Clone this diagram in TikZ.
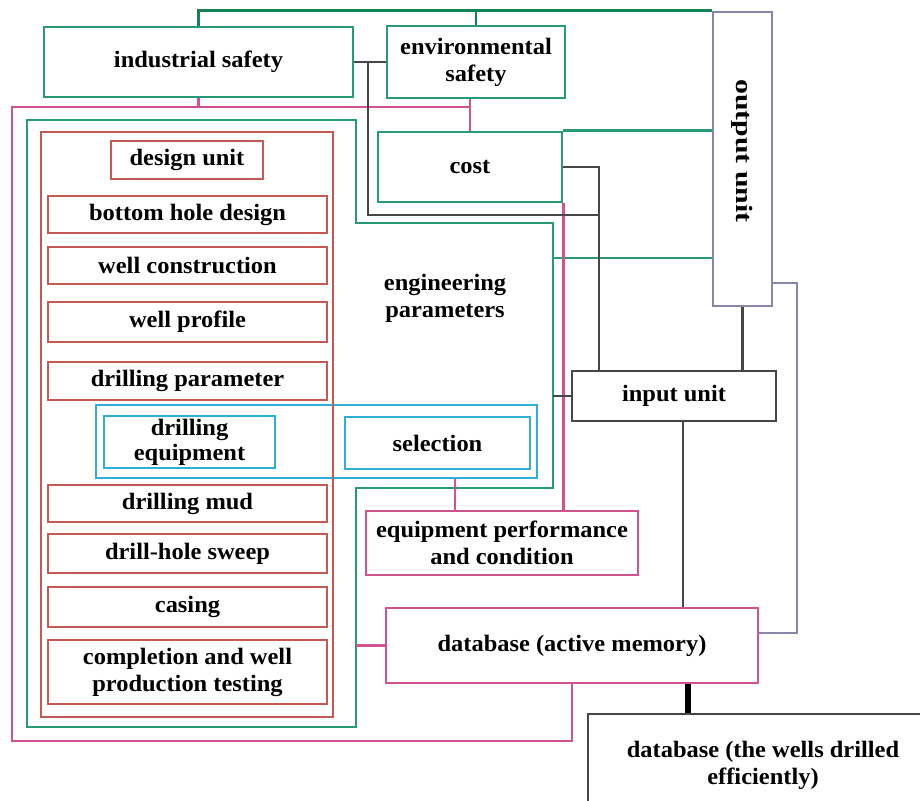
\documentclass[tikz,border=0pt]{standalone}
\usepackage{fontspec}
\setmainfont{Liberation Serif}[FakeStretch=1.04]

\definecolor{grn}{RGB}{40,155,118}
\definecolor{dgrn}{RGB}{20,130,86}
\definecolor{pnk}{RGB}{208,82,142}
\definecolor{rd}{RGB}{196,90,82}
\definecolor{cyn}{RGB}{45,175,215}
\definecolor{lav}{RGB}{135,135,172}
\definecolor{drk}{RGB}{70,70,70}

\tikzset{
  wire/.style={line width=2.9pt},
  txt/.style={inner sep=0pt, align=center, font=\fontsize{23.5}{27}\selectfont\bfseries},
  box/.style={txt, draw, line width=2.9pt},
  gbox/.style={box, draw=grn},
  pbox/.style={box, draw=pnk},
  rbox/.style={box, draw=rd},
  cbox/.style={box, draw=cyn},
  lbox/.style={box, draw=lav},
  kbox/.style={box, draw=drk}
}

\begin{document}
\begin{tikzpicture}[x=1pt,y=-1pt]
			\useasboundingbox (0,0) rectangle (920,800);
			\clip (0,0) rectangle (920,800);

			% Define boxes
			\node[gbox, minimum width=309pt, minimum height=70pt] (ind) at (198.5,62) {industrial safety};
			\node[gbox, minimum width=178pt, minimum height=72pt] (env) at (476,62) {environmental\\safety};
			\node[lbox, minimum width=59pt, minimum height=294pt] (outu) at (742.5,159) {};
			\node[txt, rotate=-90] (outt) at (742.5,151) {\scalebox{1.22}[1]{output unit}};
			\node[gbox, minimum width=184pt, minimum height=70pt] (cost) at (470,167) {cost};
			\node[txt] (eng) at (445,298) {engineering\\parameters};

			\node[rbox, minimum width=152pt, minimum height=38pt] (des) at (187,160) {design unit};
			\node[rbox, minimum width=279pt, minimum height=37pt] (bhd) at (187.5,214.5) {bottom hole design};
			\node[rbox, minimum width=279pt, minimum height=37pt] (wcon) at (187.5,265.5) {well construction};
			\node[rbox, minimum width=279pt, minimum height=40pt] (wpro) at (187.5,322) {well profile};
			\node[rbox, minimum width=279pt, minimum height=38pt] (dpar) at (187.5,381) {drilling parameter};
			\node[rbox, minimum width=279pt, minimum height=37pt] (dmud) at (187.5,503.5) {drilling mud};
			\node[rbox, minimum width=279pt, minimum height=39pt] (dhs) at (187.5,553.5) {drill-hole sweep};
			\node[rbox, minimum width=279pt, minimum height=40pt] (cas) at (187.5,607) {casing};
			\node[rbox, minimum width=279pt, minimum height=64pt] (comp) at (187.5,672) {completion and well\\production testing};

			\node[cbox, minimum width=441pt, minimum height=73pt] (dsel) at (316.5,441.5) {};
			\node[cbox, minimum width=171pt, minimum height=52pt, font=\fontsize{23.5}{25}\selectfont\bfseries] (deq) at (189.5,442) {drilling\\equipment};
			\node[cbox, minimum width=185pt, minimum height=52pt] (sel) at (437.5,443) {selection};

			\node[kbox, minimum width=204pt, minimum height=50pt] (inp) at (674,396) {input unit};
			\node[pbox, minimum width=272pt, minimum height=64pt] (eqp) at (502,543) {equipment performance\\and condition};
			\node[pbox, minimum width=372pt, minimum height=75pt] (db) at (572,645.5) {database (active memory)};
			\node[kbox, minimum width=350pt, minimum height=102pt] (dbw) at (763,765) {database (the wells drilled\\efficiently)};

			% Define group frames
			\coordinate (eL) at (356,0);
			\coordinate (eR) at (553,0);
			\draw[rd, wire] (41,132) rectangle (333,717);
			\draw[grn, wire] (27,120) -- (eL |- 0,120) -- (eL |- 0,223) -- (eR |- 0,223)
			  -- (eR |- 0,488) -- (eL |- 0,488) -- (eL |- 0,727) -- (27,727) -- cycle;

			% Draw green edges
			\draw[dgrn, wire] (ind.north) |- (outu.north west);
			\draw[dgrn, wire] (env.north) -- (env.north |- outu.north);
			\draw[grn, wire] (cost.north east) -- (cost.north east -| outu.west);
			\draw[grn, wire] (eR |- 0,258) -- (outu.west |- 0,258);

			% Draw pink edges
			\draw[pnk, wire] (ind.south) -- (ind.south |- 0,107);
			\draw[pnk, wire] (env.south -| cost.north) -- (cost.north);
			\draw[pnk, wire] (cost.north |- 0,107) -- (12,107) -- (12,741) -| (db.south);
			\draw[pnk, wire] (cost.south east) -- (cost.south east |- eqp.north);
			\draw[pnk, wire] (dsel.south -| 455,0) -- (eqp.north -| 455,0);
			\draw[pnk, wire] (eL |- db.west) -- (db.west);

			% Draw dark edges
			\draw[drk, wire] (ind.east) -- (env.west);
			\draw[drk, wire] (ind.east -| 368,0) |- (599,215);
			\draw[drk, wire] (cost.east) -| (inp.north -| 599,0);
			\draw[drk, wire] (outu.south) -- (outu.south |- inp.north);
			\draw[drk, wire] (inp.south -| 683,0) -- (db.north -| 683,0);
			\draw[drk, wire] (eR |- inp.west) -- (inp.west);
			\draw[black, line width=6pt] (db.south -| 688,0) -- (dbw.north -| 688,0);

			% Draw lavender edge
			\draw[lav, wire] (outu.east |- 0,283) -| (797,633) -- (db.east |- 0,633);
		\end{tikzpicture}
\end{document}
